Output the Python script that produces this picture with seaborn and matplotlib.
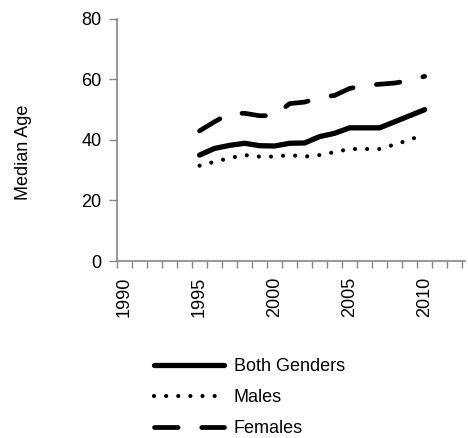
# Median age by gender, 1995-2010.
import pandas as pd
import seaborn as sns
import matplotlib.pyplot as plt
from matplotlib.ticker import MultipleLocator

years = list(range(1995, 2011))
both_genders = [35, 37.2, 38.2, 38.9, 38.1, 38, 38.9, 39, 41.1, 42.2, 44, 44, 44, 46, 48, 50]
males = [31.5, 32.8, 34, 35, 34.5, 34.5, 35, 34.5, 35, 36, 37, 37, 37, 38.5, 40, 42]
females = [43, 46, 48.8, 48.8, 48, 48, 52, 52.5, 54, 54.7, 57, 58, 58.4, 58.8, 59.6, 61]
series_names = ["Both Genders", "Males", "Females"]

df = pd.DataFrame({"Year": years, "Both Genders": both_genders,
                   "Males": males, "Females": females})

sns.set_style("white")
plt.rcParams['font.family'] = ['Liberation Sans', 'DejaVu Sans']
plt.rcParams['text.color'] = 'black'

fig = plt.figure(figsize=(4.68, 4.38), dpi=100)
ax = fig.add_axes([0.25, 0.404, 0.744, 0.553])

styles = {
    "Both Genders": dict(linewidth=3.8, linestyle="-"),
    "Males": dict(linewidth=3.0, linestyle=(0, (0.01, 2.9))),
    "Females": dict(linewidth=3.4, linestyle=(0, (5.0, 5.0))),
}
for name in series_names:
    sns.lineplot(data=df, x="Year", y=name, ax=ax, color="black", label=name,
                 dash_capstyle="round", solid_capstyle="round", **styles[name])

ax.set_xlim(1989.5, 2012.7)
ax.set_ylim(0, 80)
ax.set_yticks([0, 20, 40, 60, 80])
ax.set_xticks([1990, 1995, 2000, 2005, 2010])
ax.xaxis.set_minor_locator(MultipleLocator(1, offset=0.5))
ax.tick_params(axis="x", which="major", length=0, pad=11, labelsize=13,
               labelcolor="black", rotation=90)
ax.tick_params(axis="x", which="minor", length=5, width=1, color="#868686", bottom=True)
ax.tick_params(axis="y", length=6, width=1, color="#868686", pad=5, labelsize=13,
               labelcolor="black", left=True)

for side in ["top", "right"]:
    ax.spines[side].set_visible(False)
for side in ["left", "bottom"]:
    ax.spines[side].set_color("#868686")
    ax.spines[side].set_linewidth(1.2)

ax.set_xlabel("")
ax.set_ylabel("Median Age", fontsize=13, color="black")
ax.yaxis.set_label_coords(-0.244, 0.447)

ax.legend(loc="upper left", bbox_to_anchor=(0.06, -0.335), frameon=False,
          fontsize=13, handlelength=3.85, handletextpad=0.55, labelspacing=0.76)

fig.savefig("out.png", dpi=100)
